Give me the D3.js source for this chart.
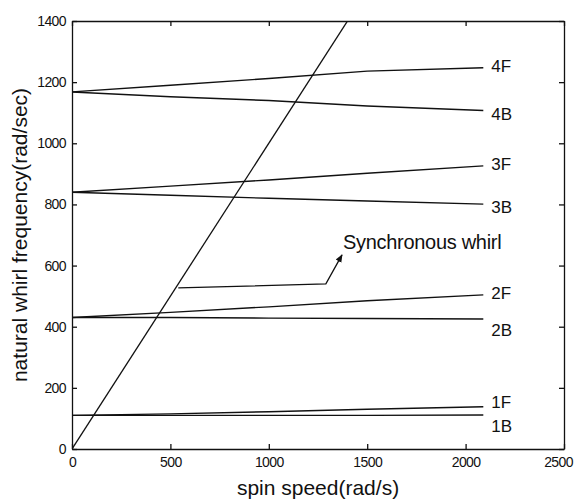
<!DOCTYPE html>
<html>
<head>
<meta charset="UTF-8">
<title>whirl speed map</title>
<script src="https://cdn.jsdelivr.net/npm/d3@7"></script>
<style>
    body { margin: 0; background: #fff; }
    text { fill: #111; }
</style>
</head>
<body>
<script>

    // spin speed sample points (rad/s)
    var speeds = [0, 500, 1000, 1500, 2090];

    // natural whirl frequencies (rad/sec) per mode
    var names = ["1F", "1B", "2F", "2B", "3F", "3B", "4F", "4B"];
    var mode1F = [110, 115, 122, 130, 138];
    var mode1B = [110, 110, 110, 110, 111];
    var mode2F = [430, 447, 465, 485, 504];
    var mode2B = [430, 430, 428, 427, 425];
    var mode3F = [840, 860, 880, 902, 926];
    var mode3B = [840, 830, 820, 811, 801];
    var mode4F = [1168, 1190, 1212, 1236, 1247];
    var mode4B = [1168, 1152, 1140, 1122, 1107];
    var modes = [mode1F, mode1B, mode2F, mode2B, mode3F, mode3B, mode4F, mode4B];

    // synchronous whirl line (omega = Omega)
    var syncSpeeds = [0, 1430];
    var syncFreqs = [0, 1430];

    // annotation arrow path
    var noteSpeeds = [540, 1290, 1372];
    var noteFreqs = [527, 540, 635];
    var noteText = "Synchronous whirl";

    var xTicks = [0, 500, 1000, 1500, 2000, 2500];
    var yTicks = [0, 200, 400, 600, 800, 1000, 1200, 1400];

    var width = 579,
        height = 501,
        padL = 72, padR = 564, padT = 21, padB = 449;

    var svg = d3.select("body").append("svg")
        .attr("width", width)
        .attr("height", height);

    var x = d3.scaleLinear().domain([0, 2500]).range([padL, padR]);
    var y = d3.scaleLinear().domain([0, 1400]).range([padB, padT]);

    var tickFont = "'Liberation Sans', Arial, sans-serif";
    var labelFont = "'Liberation Sans', Arial, sans-serif";

    var defs = svg.append("defs");
    defs.append("clipPath").attr("id", "plot")
        .append("rect")
        .attr("x", padL).attr("y", padT)
        .attr("width", padR - padL).attr("height", padB - padT);
    defs.append("marker")
        .attr("id", "arrow")
        .attr("viewBox", "0 0 10 10")
        .attr("refX", 9).attr("refY", 5)
        .attr("markerWidth", 8).attr("markerHeight", 8)
        .attr("markerUnits", "userSpaceOnUse")
        .attr("orient", "auto")
        .append("path")
        .attr("d", "M0,1 L10,5 L0,9 Z")
        .style("fill", "#111");

    var fmt = d3.format("d");

    // axes, ticks pointing inward, boxed like matlab
    var axisB = svg.append("g").attr("transform", "translate(0," + padB + ")")
        .call(d3.axisBottom(x).tickValues(xTicks).tickFormat(fmt).tickSizeInner(-5).tickSizeOuter(0).tickPadding(8));
    var axisT = svg.append("g").attr("transform", "translate(0," + padT + ")")
        .call(d3.axisTop(x).tickValues(xTicks).tickSizeInner(-5).tickSizeOuter(0).tickFormat(""));
    var axisL = svg.append("g").attr("transform", "translate(" + padL + ",0)")
        .call(d3.axisLeft(y).tickValues(yTicks).tickFormat(fmt).tickSizeInner(-5).tickSizeOuter(0).tickPadding(6));
    var axisR = svg.append("g").attr("transform", "translate(" + padR + ",0)")
        .call(d3.axisRight(y).tickValues(yTicks).tickSizeInner(-5).tickSizeOuter(0).tickFormat(""));

    [axisB, axisT, axisL, axisR].forEach(function(a) {
        a.selectAll("path, line").style("stroke", "#111").style("stroke-width", 1.3);
        a.selectAll("text").style("font-family", tickFont).style("font-size", "14px")
            .style("letter-spacing", "-0.6px").style("fill", "#111");
    });
    // last x label sits a bit left, as in the scan
    axisB.selectAll(".tick text").filter(function(d) { return d === 2500; }).attr("dx", "-6");

    var line = d3.line()
        .x(function(d) { return x(d[0]); })
        .y(function(d) { return y(d[1]); });

    var plot = svg.append("g").attr("clip-path", "url(#plot)");

    // mode curves
    modes.forEach(function(vals, i) {
        var pts = speeds.map(function(s, j) { return [s, vals[j]]; });
        plot.append("path")
            .attr("d", line(pts))
            .style("fill", "none")
            .style("stroke", "#111")
            .style("stroke-width", 1.4);
    });

    // synchronous line
    plot.append("path")
        .attr("d", line(syncSpeeds.map(function(s, j) { return [s, syncFreqs[j]]; })))
        .style("fill", "none")
        .style("stroke", "#111")
        .style("stroke-width", 1.3);

    // mode labels at the right end of each curve
    var last = speeds.length - 1;
    svg.selectAll(".mode-label").data(names)
        .enter().append("text")
        .attr("class", "mode-label")
        .attr("x", x(speeds[last]) + 8)
        .attr("y", function(d, i) {
            var v = y(modes[i][last]);
            if (d === "1F") return v - 5;
            if (d === "1B" || d === "2B") return v + 11;
            return d.charAt(1) === "F" ? v - 2 : v + 3;
        })
        .attr("dy", "0.35em")
        .style("font-family", labelFont)
        .style("font-size", "17px")
        .text(function(d) { return d; });

    // annotation
    svg.append("path")
        .attr("d", line(noteSpeeds.map(function(s, j) { return [s, noteFreqs[j]]; })))
        .style("fill", "none")
        .style("stroke", "#111")
        .style("stroke-width", 1.3)
        .attr("marker-end", "url(#arrow)");

    svg.append("text")
        .attr("x", x(noteSpeeds[2]) + 1)
        .attr("y", y(noteFreqs[2]) - 6)
        .style("font-family", labelFont)
        .style("font-size", "20px")
        .style("letter-spacing", "-0.3px")
        .text(noteText);

    // axis titles
    svg.append("text")
        .attr("x", (padL + padR) / 2)
        .attr("y", 495)
        .attr("text-anchor", "middle")
        .style("font-family", labelFont)
        .style("font-size", "21px")
        .text("spin speed(rad/s)");

    svg.append("text")
        .attr("transform", "translate(27," + (padT + padB) / 2 + ") rotate(-90)")
        .attr("text-anchor", "middle")
        .style("font-family", labelFont)
        .style("font-size", "21px")
        .text("natural whirl frequency(rad/sec)");

</script>
</body>
</html>
